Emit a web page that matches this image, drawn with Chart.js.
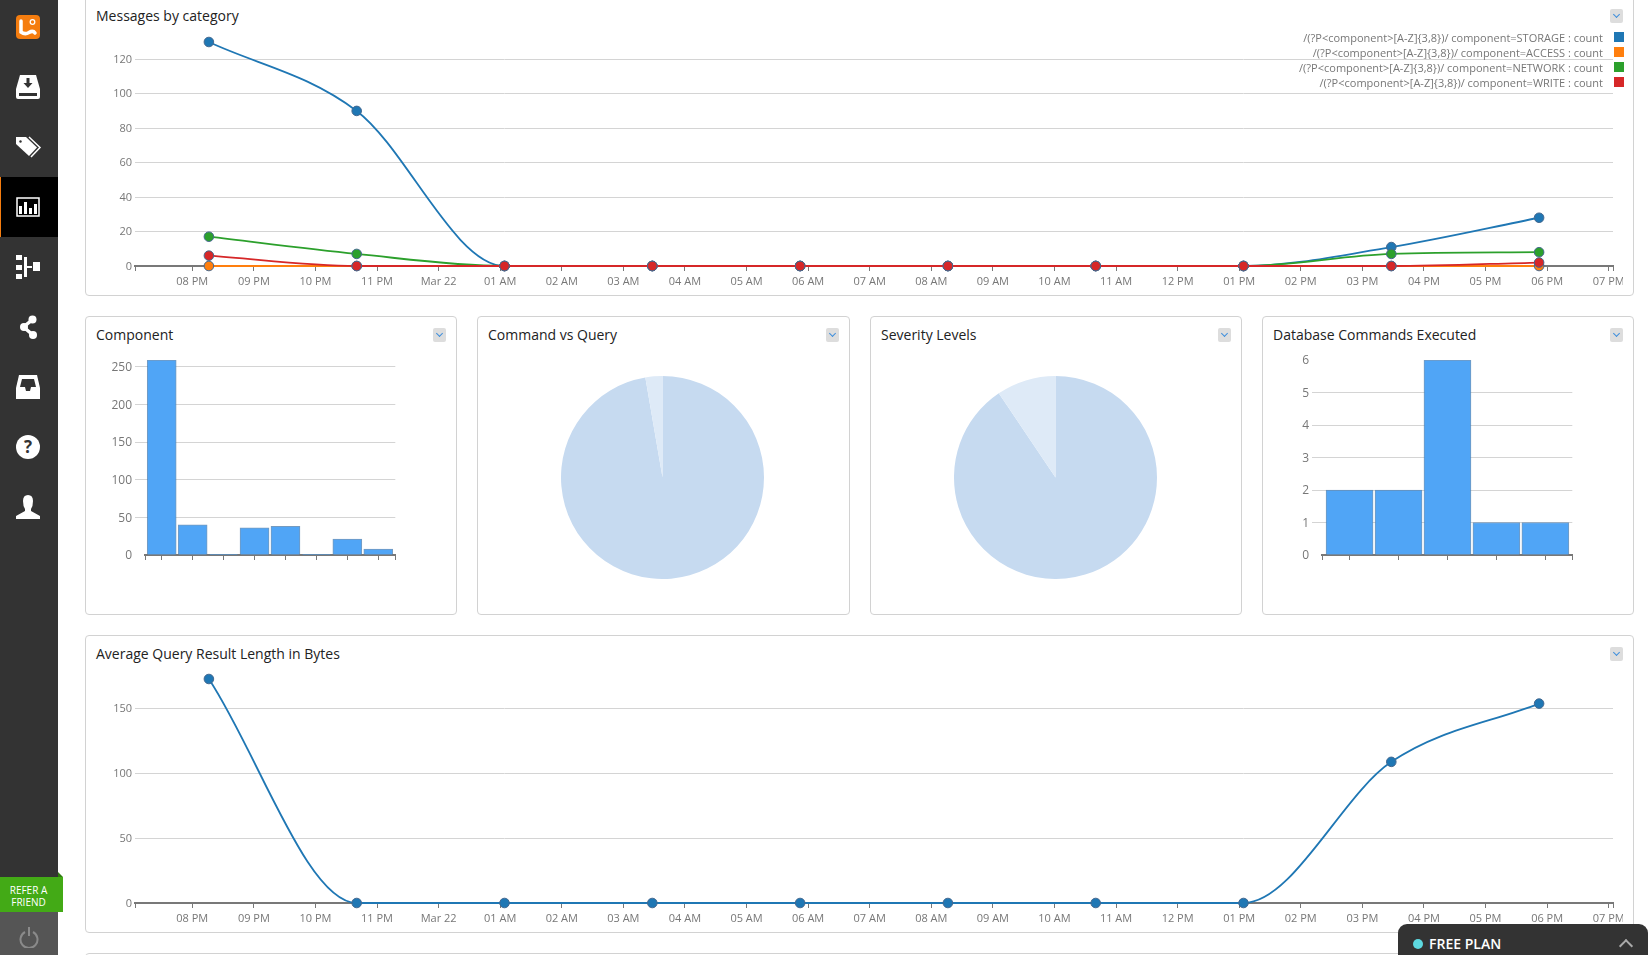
<!DOCTYPE html>
<html>
<head>
<meta charset="utf-8">
<title>Dashboard</title>
<script src="https://cdn.jsdelivr.net/npm/chart.js@4"></script>
<style>
html, body { margin: 0; padding: 0; width: 1648px; height: 955px; overflow: hidden; background: #fff; font-family: "Open Sans", sans-serif; }
.abs, .card, .title, .menu, canvas, svg { position: absolute; }
.card { box-sizing: border-box; border: 1px solid #d2d2d2; border-radius: 4px; background: #fff; }
.title { font-size: 14px; line-height: 18px; color: #222; white-space: nowrap; }
.menu { width: 13px; height: 14px; background: #ddd; border-radius: 2px; }
.menu:after { content: ""; position: absolute; left: 3.5px; top: 3px; width: 4px; height: 4px; border-right: 1.5px solid #3f8fdc; border-bottom: 1.5px solid #3f8fdc; transform: rotate(45deg); }
#sidebar { left: 0; top: 0; width: 58px; height: 955px; background: #333; }
#active { left: 0; top: 177px; width: 58px; height: 60px; background: #000; border-left: 1px solid #f57d0f; box-sizing: border-box; }
#power { left: 0; top: 912px; width: 58px; height: 43px; background: #555; }
#refer { left: 0; top: 877px; width: 63px; height: 35px; background: #43aa16; color: #fff; font-size: 10px; line-height: 12px; text-align: center; padding: 6.5px 6px 0 0; box-sizing: border-box; }
#fold { left: 58px; top: 872px; width: 0; height: 0; border-bottom: 5px solid #2f7c0e; border-right: 5px solid transparent; }
#plan { left: 1398px; top: 924px; width: 250px; height: 31px; background: #333; border-radius: 9px 9px 0 0; color: #fff; font-size: 14px; font-weight: 600; line-height: 40px; text-indent: 31px; }
#plan i { position: absolute; left: 15px; top: 15px; width: 10px; height: 10px; border-radius: 50%; background: #5dd9e0; }
#plan b { position: absolute; left: 223px; top: 17px; width: 8px; height: 8px; border-left: 2px solid #aaa; border-top: 2px solid #aaa; transform: rotate(45deg); }
#legend { right: 45px; top: 30px; }
.entry { position: relative; height: 15px; line-height: 15px; font-size: 11px; color: #777; text-align: right; white-space: nowrap; }
.entry span { position: absolute; right: -20.5px; top: 2px; width: 10px; height: 10px; }
</style>
</head>
<body>

<div class="abs" id="sidebar"></div>
<div class="abs" id="active"></div>
<svg style="left:0;top:0" width="58" height="955" fill="#fff">
	<rect x="16" y="15" width="24" height="24" rx="4" fill="#f57d0f"/>
	<path d="M21 21V32Q25 35 29 32.500T35 33" fill="none" stroke="#fff" stroke-width="3.500" stroke-linecap="round"/>
	<circle cx="32.500" cy="22" r="2.300" fill="none" stroke="#fff" stroke-width="1.300"/>
	<path d="M20 75h16l4 14v8q0 2-2 2H18q-2 0-2-2v-8z"/>
	<path d="M26.500 78h3v5h3l-4.500 5-4.500-5h3z M19 93h18v3H19z" fill="#333"/>
	<path d="M16 137h10l11 10.500-8 8.500-13-12z"/>
	<path d="M29 137l11 10.500-9 9.500" fill="none" stroke="#fff" stroke-width="1.500"/>
	<circle cx="20.500" cy="141.500" r="1.200" fill="#333"/>
	<rect x="17" y="198" width="22" height="18" fill="none" stroke="#fff" stroke-width="1.500"/>
	<path d="M19 206h3v8h-3z M24 202h3v12h-3z M29 208h3v6h-3z M34 204h3v10h-3z"/>
	<path d="M16 255h6v5h-6z M16 265h6v5h-6z M16 274h6v5h-6z M33 262h7v9h-7z M24 257h3v20h-3z M27 266h5v2h-5z"/>
	<path d="M32 320L23.500 327L33 335" fill="none" stroke="#fff" stroke-width="3.500"/>
	<circle cx="32.500" cy="319.500" r="4"/>
	<circle cx="24" cy="327" r="4"/>
	<circle cx="33" cy="335" r="4"/>
	<path d="M19 375h18l3 13v11H16v-11z"/>
	<path d="M22 379h12l2 8h-5l-1 4h-4l-1-4h-5z" fill="#333"/>
	<circle cx="28" cy="447" r="12"/>
	<text x="28" y="453" text-anchor="middle" font-size="17" font-weight="700" fill="#333" font-family="Open Sans">?</text>
	<path d="M23 501q0-6 5-6t5 6q0 5-2 8v2l9 5v3H16v-3l9-5v-2q-2-3-2-8z"/>
</svg>
<div class="abs" id="power"></div>
<svg style="left:19px;top:926px" width="20" height="22" fill="none" stroke="#8a8a8a" stroke-width="2">
	<path d="M6 6a8.500 8.500 0 1 0 8 0 M10 1v9"/>
</svg>
<div class="abs" id="fold"></div>
<div class="abs" id="refer">REFER A<br>FRIEND</div>

<div class="card" style="left:85px;top:-6px;width:1549px;height:302px"></div>
<div class="card" style="left:85px;top:316px;width:372px;height:299px"></div>
<div class="card" style="left:477px;top:316px;width:373px;height:299px"></div>
<div class="card" style="left:870px;top:316px;width:372px;height:299px"></div>
<div class="card" style="left:1262px;top:316px;width:372px;height:299px"></div>
<div class="card" style="left:85px;top:635px;width:1549px;height:298px"></div>
<div class="card" style="left:85px;top:953px;width:1549px;height:20px"></div>

<div class="title" style="left:96px;top:7px">Messages by category</div>
<div class="title" style="left:96px;top:326px">Component</div>
<div class="title" style="left:488px;top:326px">Command vs Query</div>
<div class="title" style="left:881px;top:326px">Severity Levels</div>
<div class="title" style="left:1273px;top:326px">Database Commands Executed</div>
<div class="title" style="left:96px;top:645px">Average Query Result Length in Bytes</div>

<div class="menu" style="left:1610px;top:9px"></div>
<div class="menu" style="left:433px;top:328px"></div>
<div class="menu" style="left:826px;top:328px"></div>
<div class="menu" style="left:1218px;top:328px"></div>
<div class="menu" style="left:1610px;top:328px"></div>
<div class="menu" style="left:1610px;top:647px"></div>

<canvas id="messages_chart" width="1537" height="296" style="left:86px;top:0"></canvas>
<canvas id="component_chart" width="320" height="241" style="left:86px;top:345px"></canvas>
<canvas id="command_chart" width="203" height="203" style="left:561px;top:376px"></canvas>
<canvas id="severity_chart" width="203" height="203" style="left:954px;top:376px"></canvas>
<canvas id="database_chart" width="320" height="241" style="left:1263px;top:345px"></canvas>
<canvas id="query_chart" width="1537" height="297" style="left:86px;top:636px"></canvas>

<div class="abs" id="legend"></div>
<div class="abs" id="plan"><i></i>FREE PLAN<b></b></div>

<script>
// hours counted from 08 PM
const hourTicks = [0, 1, 2, 3, 4, 5, 6, 7, 8, 9, 10, 11, 12, 13, 14, 15, 16, 17, 18, 19, 20, 21, 22, 23];
const hourLabels = ['08 PM', '09 PM', '10 PM', '11 PM', 'Mar 22', '01 AM', '02 AM', '03 AM', '04 AM', '05 AM', '06 AM', '07 AM', '08 AM', '09 AM', '10 AM', '11 AM', '12 PM', '01 PM', '02 PM', '03 PM', '04 PM', '05 PM', '06 PM', '07 PM'];
const sampleHours = [0.27, 2.67, 5.07, 7.47, 9.87, 12.27, 14.67, 17.07, 19.47, 21.87];

const seriesNames = [
	'/(?P<component>[A-Z]{3,8})/ component=STORAGE : count',
	'/(?P<component>[A-Z]{3,8})/ component=ACCESS : count',
	'/(?P<component>[A-Z]{3,8})/ component=NETWORK : count',
	'/(?P<component>[A-Z]{3,8})/ component=WRITE : count'
];
const seriesColors = ['#1f77b4', '#ff7f0e', '#2ca02c', '#d62728'];
const storageCounts = [130, 90, 0, 0, 0, 0, 0, 0, 11, 28];
const accessCounts = [0, 0, 0, 0, 0, 0, 0, 0, 0, 0];
const networkCounts = [17, 7, 0, 0, 0, 0, 0, 0, 7, 8];
const writeCounts = [6, 0, 0, 0, 0, 0, 0, 0, 0, 2];

const componentValues = [259, 40, 1, 36, 38, 1, 21, 8];
const commandVsQuery = [36, 1];
const severityLevels = [96, 10];
const databaseCommands = [2, 2, 6, 1, 1];
const queryLengths = [173, 0, 0, 0, 0, 0, 0, 0, 109, 154];

Chart.defaults.font.family = '"Open Sans", sans-serif';
Chart.defaults.color = '#777';
Chart.defaults.animation = false;
Chart.defaults.responsive = false;
Chart.defaults.plugins.legend.display = false;
Chart.defaults.plugins.tooltip.enabled = false;

function toPoints(xs, ys) {
	return ys.map((y, i) => ({ x: xs[i], y }));
}

// gridlines are hidden on the baseline and, when asked, on the top tick
function gridColor(hideValue) {
	return ctx => (ctx.tick.value === 0 || ctx.tick.value === hideValue) ? 'rgba(0,0,0,0)' : '#d4d4d4';
}

function yAxis(max, step, width, fontSize, tickLength, labelOffset) {
	return {
		min: 0,
		max,
		afterFit: axis => {
			axis.width = width;
			axis.paddingTop = 0;
			axis.paddingBottom = 0;
		},
		border: { display: false },
		grid: { color: gridColor(max), tickColor: gridColor(max), drawTicks: tickLength > 0, tickLength },
		ticks: { stepSize: step, includeBounds: false, padding: 3, labelOffset, font: { size: fontSize } }
	};
}

// the outer ticks sit on the ends of the axis and have no label
function xAxis(min, max, positions, labels, height) {
	return {
		type: 'linear',
		min,
		max,
		offset: false,
		afterFit: axis => {
			axis.height = height;
			axis.paddingLeft = 0;
			axis.paddingRight = 0;
		},
		afterBuildTicks: axis => {
			axis.ticks = [min, ...positions, max].map(value => ({ value }));
		},
		border: { color: '#787878', width: 2 },
		grid: { offset: false, drawOnChartArea: false, color: '#787878', tickLength: 5 },
		ticks: {
			autoSkip: false,
			maxRotation: 0,
			padding: 4,
			font: { size: 11 },
			callback: value => {
				const i = positions.indexOf(value);
				return labels && i >= 0 ? labels[i] : '';
			}
		}
	};
}

function lineChart(id, series, yMax, yStep, top) {
	new Chart(document.getElementById(id), {
		type: 'line',
		data: {
			datasets: series.map((s, i) => ({
				label: s.name,
				data: toPoints(sampleHours, s.values),
				order: series.length - i,
				clip: false,
				borderColor: s.color,
				backgroundColor: s.color,
				borderWidth: 1.8,
				cubicInterpolationMode: 'monotone',
				pointRadius: 4.8,
				pointBorderWidth: 1,
				pointBorderColor: '#44688f',
				pointBackgroundColor: s.color
			}))
		},
		options: {
			layout: { padding: { top, right: 10 } },
			scales: {
				x: xAxis(-0.93, 23.07, hourTicks, hourLabels, 30),
				y: yAxis(yMax, yStep, 49, 11, 0, 0.5)
			}
		}
	});
}

function barChart(id, values, xMin, xMax, yMax, yStep, thickness) {
	const positions = values.map((v, i) => i);
	new Chart(document.getElementById(id), {
		type: 'bar',
		data: {
			datasets: [{
				data: toPoints(positions, values),
				backgroundColor: '#50a5f6',
				borderColor: 'rgba(70,120,170,0.75)',
				borderWidth: 1,
				barThickness: thickness
			}]
		},
		options: {
			layout: { padding: { top: 15, right: 10.7 } },
			scales: {
				x: xAxis(xMin, xMax, positions, null, 31),
				y: yAxis(yMax, yStep, 59, 12, 10, 1)
			}
		}
	});
}

function pieChart(id, values) {
	new Chart(document.getElementById(id), {
		type: 'pie',
		data: {
			datasets: [{
				data: values,
				backgroundColor: ['#c6daf0', '#deeaf7'],
				borderWidth: 0
			}]
		}
	});
}

lineChart('messages_chart', [
	{ name: seriesNames[0], color: seriesColors[0], values: storageCounts },
	{ name: seriesNames[1], color: seriesColors[1], values: accessCounts },
	{ name: seriesNames[2], color: seriesColors[2], values: networkCounts },
	{ name: seriesNames[3], color: seriesColors[3], values: writeCounts }
], 130, 20, 42);
lineChart('query_chart', [
	{ name: 'Average Query Result Length in Bytes', color: seriesColors[0], values: queryLengths }
], 173, 50, 43);

barChart('component_chart', componentValues, -0.54, 7.55, 259, 50, 29);
barChart('database_chart', databaseCommands, -0.563, 4.55, 6, 1, 47);
pieChart('command_chart', commandVsQuery);
pieChart('severity_chart', severityLevels);

const legend = document.getElementById('legend');
seriesNames.forEach((name, i) => {
	const entry = document.createElement('div');
	entry.className = 'entry';
	entry.textContent = name;
	const swatch = document.createElement('span');
	swatch.style.background = seriesColors[i];
	entry.appendChild(swatch);
	legend.appendChild(entry);
});
</script>
</body>
</html>
